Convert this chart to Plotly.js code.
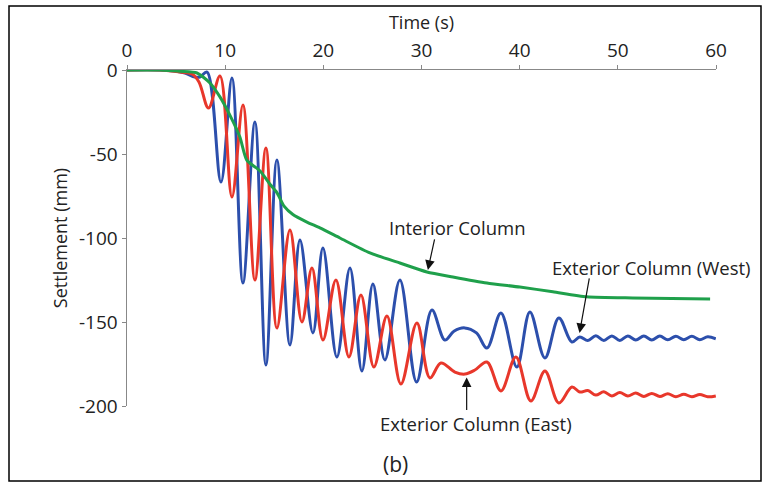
<!DOCTYPE html>
<html>
<head>
<meta charset="utf-8">
<script src="https://cdn.plot.ly/plotly-3.0.1.min.js"></script>
<style>html,body{margin:0;padding:0;background:#fff;}#chart{width:770px;height:486px;}</style>
</head>
<body>
<div id="chart"></div>
<script>
// Interior Column
var interiorTime = [0,3.36,5.4,7.13,8.45,9.47,10.49,11.5,12.2,13.54,14.56,15.27,16.0,16.9,18.33,19.65,21.69,24.75,27.8,30.55,33.2,36.66,40.02,43.38,46.84,51.5,55.5,59.4];
var interiorSettle = [0,0,-0.8,-1.8,-7.7,-16,-27,-39.9,-53.6,-60,-68,-73,-81,-86,-90.5,-94,-100,-108.9,-114.9,-120.2,-123.2,-126.8,-129.2,-132,-135,-135.7,-136,-136.3];

// Exterior Column (West)
var westTime = [0,3.36,4.89,5.91,6.92,7.43,8.15,9.57,10.69,11.81,13.03,14.15,15.27,16.6,17.62,18.94,19.96,21.38,22.71,23.93,25.05,26.27,27.8,29.5,31.06,32.38,33.3,34.4,35.6,36.66,38.09,39.71,41.04,42.57,43.99,45.32,46.13,46.94,47.76,48.57,49.39,50.2,51.02,51.83,52.65,53.46,54.28,55.09,55.91,56.72,57.54,58.35,59.16,59.98];
var westSettle = [0,0,-0.6,-1.8,-4.2,-4.2,-1.2,-66.7,-4.8,-126.8,-31,-175.6,-53.6,-163.7,-101.2,-156.5,-106,-170.8,-117.9,-179.2,-127.4,-172.6,-125,-185.7,-142.9,-160.7,-155.5,-153.5,-156.5,-165.5,-144.6,-176.8,-144,-171.4,-147.6,-161.9,-158.9,-161,-158.2,-161,-158.3,-161,-158.3,-160.7,-158.4,-160.7,-158.4,-160.6,-158.5,-160.5,-158.5,-160.5,-158.8,-160];

// Exterior Column (East)
var eastTime = [0,3.36,5.4,6.62,7.33,8.3,9.47,10.69,11.81,13.03,14.15,15.27,16.6,17.82,18.84,19.96,21.28,22.61,23.83,25.15,26.48,27.9,29.53,30.86,31.98,33.4,34.42,35.44,36.66,38.09,39.61,41.14,42.57,43.99,45.32,46.13,46.94,47.76,48.57,49.39,50.2,51.02,51.83,52.65,53.46,54.28,55.09,55.91,56.72,57.54,58.35,59.16,59.98];
var eastSettle = [0,0,-1.2,-2.4,-7.1,-22.6,-3.6,-75.6,-20.8,-125,-46.4,-153.6,-95.2,-150,-117.9,-160.7,-125,-170.8,-133.9,-176.8,-146.4,-186.9,-150.6,-183.3,-174.4,-179.8,-181,-178.6,-173.8,-191,-170.8,-197,-179.2,-198.2,-188.7,-191.7,-190.8,-193.5,-191.5,-194,-192,-194,-192.3,-194.3,-192.5,-194.3,-192.7,-194.5,-193,-194.5,-193.2,-194.5,-194];

var xTickVals = [0,10,20,30,40,50,60];
var yTickVals = [0,-50,-100,-150,-200];
var yTickText = ['0','-50','-100','-150','-200'];

var M = {l:127, r:54, t:70, b:80};
var W = 770, H = 486;
var pw = W - M.l - M.r, ph = H - M.t - M.b;
function px2paperX(p){return (p - M.l)/pw;}
function px2paperY(p){return (H - M.b - p)/ph;}

var FONT = 'Open Sans, Noto Sans, sans-serif';
var TXT = '#222';

var traces = [
  {x: westTime, y: westSettle, mode:'lines', line:{color:'#2c4fac', width:3, shape:'spline', smoothing:1}, name:'Exterior Column (West)'},
  {x: eastTime, y: eastSettle, mode:'lines', line:{color:'#e8372b', width:3, shape:'spline', smoothing:1}, name:'Exterior Column (East)'},
  {x: interiorTime, y: interiorSettle, mode:'lines', line:{color:'#1fa04b', width:3, shape:'spline', smoothing:0.6}, name:'Interior Column'}
];

var layout = {
  width: W, height: H,
  margin: M,
  paper_bgcolor:'#ffffff', plot_bgcolor:'#ffffff',
  showlegend:false,
  font:{family:FONT, color:TXT, size:16},
  xaxis:{
    side:'top', range:[0,60], tickvals:xTickVals, showgrid:false, zeroline:false,
    showline:true, linecolor:'#888', linewidth:1.5, ticks:'outside', ticklen:4, tickcolor:'#888',
    tickfont:{size:19, family:FONT, color:TXT},
    title:{text:'Time (s)', font:{size:18, family:FONT, color:TXT}, standoff:2}
  },
  yaxis:{
    range:[-200,0], tickvals:yTickVals, ticktext:yTickText, showgrid:false, zeroline:false,
    showline:true, linecolor:'#888', linewidth:1.5, ticks:'outside', ticklen:4, tickcolor:'#888',
    tickfont:{size:19, family:FONT, color:TXT},
    title:{text:'Settlement (mm)', font:{size:18, family:FONT, color:TXT}, standoff:6}
  },
  shapes:[
    {type:'rect', xref:'paper', yref:'paper', x0:px2paperX(9), x1:px2paperX(761), y0:px2paperY(481), y1:px2paperY(6), line:{color:'#000', width:1.5}, fillcolor:'rgba(0,0,0,0)', layer:'below'}
  ],
  annotations:[
    {x:33.7, y:-94, text:'Interior Column', showarrow:false, xanchor:'center', yanchor:'middle', font:{size:18.5, family:FONT, color:TXT}},
    {x:30.65, y:-119, text:'', showarrow:true, ax:7, ay:-32, arrowhead:2, arrowsize:1.6, arrowwidth:1.2, arrowcolor:'#111'},
    {x:53.4, y:-117.3, text:'Exterior Column (West)', showarrow:false, xanchor:'center', yanchor:'middle', font:{size:18.5, family:FONT, color:TXT}},
    {x:46.1, y:-156.5, text:'', showarrow:true, ax:10, ay:-56, arrowhead:2, arrowsize:1.6, arrowwidth:1.2, arrowcolor:'#111'},
    {xref:'paper', yref:'paper', x:px2paperX(476), y:px2paperY(423), xanchor:'center', yanchor:'middle', text:'Exterior Column (East)', showarrow:false, font:{size:18.5, family:FONT, color:TXT}},
    {x:34.6, y:-183, text:'', showarrow:true, ax:0, ay:34, arrowhead:2, arrowsize:1.6, arrowwidth:1.2, arrowcolor:'#111'},
    {xref:'paper', yref:'paper', x:px2paperX(395), y:px2paperY(464), xanchor:'center', yanchor:'middle', text:'(b)', showarrow:false, font:{size:21, family:FONT, color:TXT}}
  ]
};

Plotly.newPlot('chart', traces, layout, {staticPlot:true, displayModeBar:false});
</script>
</body>
</html>
